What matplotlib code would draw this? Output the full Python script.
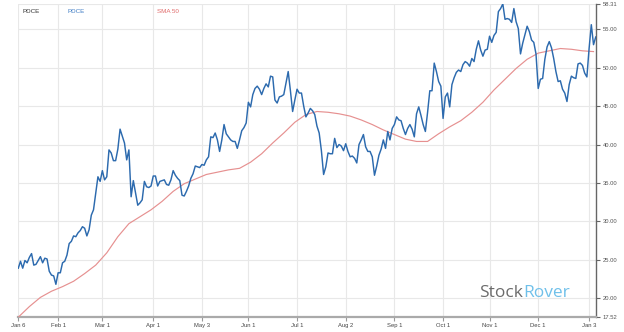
import numpy as np
import pandas as pd
import matplotlib
matplotlib.use("Agg")
import matplotlib.pyplot as plt

# daily closes, one per weekday starting 2021-01-06
closes = [
    23.9, 24.8, 23.9, 24.9, 24.6, 25.3, 25.8, 24.3, 24.4, 24.9,
    25.4, 24.6, 25.2, 25.1, 23.5, 23.0, 22.9, 21.8, 23.3, 23.3,
    24.6, 24.8, 25.6, 27.1, 27.4, 28.1, 28.0, 28.5, 28.8, 29.3,
    29.1, 28.1, 28.9, 30.8, 31.5, 33.7, 35.8, 35.2, 36.6, 35.4,
    35.8, 39.3, 38.9, 37.9, 37.9, 39.4, 42.0, 41.1, 40.2, 38.0,
    39.3, 33.2, 35.3, 33.7, 32.1, 32.4, 32.8, 35.2, 34.5, 34.4,
    34.6, 35.9, 35.9, 34.6, 35.2, 35.3, 35.4, 34.8, 34.7, 35.4,
    36.6, 36.0, 35.6, 35.3, 33.4, 33.3, 33.9, 34.6, 35.6, 36.2,
    37.2, 37.1, 37.0, 37.4, 37.3, 38.0, 38.4, 41.0, 40.9, 41.5,
    40.6, 39.1, 40.6, 42.6, 41.4, 41.0, 40.6, 40.4, 40.4, 39.5,
    40.6, 41.8, 42.2, 42.8, 45.5, 44.9, 46.5, 47.3, 47.6, 47.2,
    46.5, 47.3, 47.9, 47.5, 48.9, 48.8, 45.8, 45.4, 46.2, 46.3,
    46.5, 48.0, 49.5, 47.0, 44.3, 45.8, 47.2, 46.7, 46.7, 45.0,
    43.6, 44.1, 44.7, 44.4, 43.9, 42.4, 41.5, 39.2, 36.1, 37.1,
    38.9, 38.8, 38.8, 40.8, 39.6, 40.0, 39.8, 39.2, 40.1, 39.1,
    38.4, 38.5, 38.2, 37.6, 40.0, 40.6, 41.3, 39.7, 39.1, 39.1,
    38.4, 36.0, 37.2, 38.6, 39.4, 40.6, 39.5, 41.7, 40.6, 42.1,
    42.6, 43.6, 43.2, 43.1, 42.1, 41.3, 42.1, 42.6, 42.0, 41.0,
    44.0, 44.9, 43.8, 42.6, 41.7, 44.2, 47.0, 47.0, 50.6, 49.5,
    48.2, 47.6, 43.4, 46.2, 46.7, 44.9, 47.8, 48.7, 49.4, 49.7,
    49.5, 50.4, 50.8, 50.6, 50.2, 51.2, 50.8, 52.4, 53.5, 52.3,
    51.5, 52.3, 52.4, 54.1, 53.3, 54.2, 54.6, 57.3, 57.7, 58.31,
    56.3, 56.4, 56.3, 55.9, 57.7, 56.0, 55.1, 51.8, 53.2, 54.3,
    55.4, 54.7, 53.6, 53.3, 51.8, 47.3, 48.5, 48.6, 51.1, 52.7,
    53.4, 52.6, 51.2, 49.5, 48.2, 48.3, 47.2, 46.7, 45.6, 47.8,
    48.9, 48.7, 48.6, 50.5, 50.6, 50.3, 49.3, 48.8, 52.5, 55.6,
    53.0, 54.0,
]

# 50-day simple moving average, every 5th session
sma_step = 5
sma50 = [
    17.52, 18.9, 20.1, 20.9, 21.5, 22.2, 23.2, 24.3, 25.9, 28.0,
    29.7, 30.6, 31.5, 32.6, 33.9, 34.9, 35.5, 36.1, 36.4, 36.7,
    36.9, 37.7, 38.8, 40.2, 41.5, 42.9, 43.9, 44.3, 44.2, 44.0,
    43.7, 43.2, 42.6, 41.9, 41.3, 40.7, 40.4, 40.4, 41.4, 42.3,
    43.1, 44.2, 45.5, 47.1, 48.5, 49.9, 51.1, 51.9, 52.2, 52.5,
    52.4, 52.2, 52.1,
]

tick_days = ["2021-01-06", "2021-02-01", "2021-03-01", "2021-04-01",
             "2021-05-03", "2021-06-01", "2021-07-01", "2021-08-02",
             "2021-09-01", "2021-10-01", "2021-11-01", "2021-12-01",
             "2022-01-03"]
y_ticks = [17.52, 20, 25, 30, 35, 40, 45, 50, 55, 58.31]

dates = pd.bdate_range("2021-01-06", periods=len(closes))
idx = np.arange(len(closes))
sma_idx = np.arange(len(sma50)) * sma_step

plt.rcParams["font.family"] = ["Liberation Sans", "DejaVu Sans"]

fig = plt.figure(figsize=(6.24, 3.32), dpi=100)
ax = fig.add_axes([0.0293, 0.0446, 0.9254, 0.9437])

ax.plot(sma_idx, sma50, color="#e69090", lw=0.85, zorder=3)
ax.plot(idx, closes, color="#2c6aae", lw=1.05, zorder=4)

ax.set_xlim(0, len(closes) - 1)
ax.set_ylim(y_ticks[0], y_ticks[-1])

# x ticks sit on trading-day positions
tick_pos = [dates.get_loc(pd.Timestamp(d)) for d in tick_days]
ax.set_xticks(tick_pos)
ax.set_xticklabels([f"{pd.Timestamp(d):%b} {pd.Timestamp(d).day}" for d in tick_days])
ax.set_yticks(y_ticks)
ax.set_yticklabels([f"{v:.2f}" for v in y_ticks])

ax.yaxis.tick_right()
ax.grid(True, color="#e8e8e8", lw=0.8, zorder=0)
ax.tick_params(axis="x", length=3, width=0.8, color="#999999",
               labelsize=4.2, labelcolor="#444444", pad=1.5)
ax.tick_params(axis="y", length=3, width=0.8, color="#666666",
               labelsize=4.2, labelcolor="#555555", pad=2)

for side in ("left", "top"):
    ax.spines[side].set_visible(False)
ax.spines["right"].set_color("#666666")
ax.spines["right"].set_linewidth(1.0)
ax.spines["bottom"].set_color("#aaaaaa")
ax.spines["bottom"].set_linewidth(1.6)

# series header
ax.text(0.0076, 0.975, "PDCE", transform=ax.transAxes, fontsize=4.5,
        color="#333333", va="center", ha="left")
ax.text(0.086, 0.975, "PDCE", transform=ax.transAxes, fontsize=4.5,
        color="#3f7cc4", va="center", ha="left")
ax.text(0.240, 0.975, "SMA 50", transform=ax.transAxes, fontsize=4.5,
        color="#e06a6a", va="center", ha="left")

# watermark
fig.text(0.768, 0.105, "Stock", fontsize=12.5, color="#6b6b6b",
         family=["Open Sans", "DejaVu Sans"], ha="left", va="baseline")
fig.text(0.839, 0.105, "Rover", fontsize=12.5, color="#6fc0ea",
         family=["Open Sans", "DejaVu Sans"], ha="left", va="baseline")

fig.savefig("out.png", dpi=100, facecolor="white")
